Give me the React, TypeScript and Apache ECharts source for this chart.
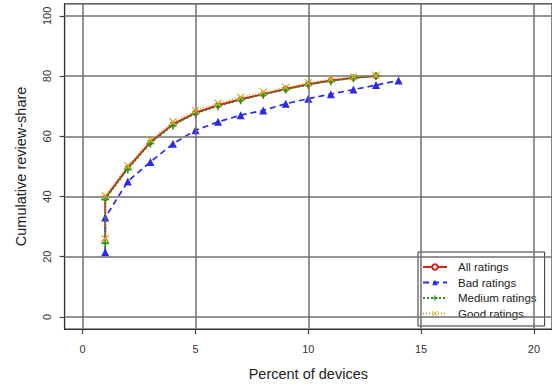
import React, { useEffect, useRef } from "react";
import * as echarts from "echarts";

const xTicks = [0, 5, 10, 15, 20];
const yTicks = [0, 20, 40, 60, 80, 100];

const xMain = [1, 1, 2, 3, 4, 5, 6, 7, 8, 9, 10, 11, 12, 13];
const xBad = [1, 1, 2, 3, 4, 5, 6, 7, 8, 9, 10, 11, 12, 13, 14];

const allRatings = [25, 39.5, 49.5, 58, 64, 67.8, 70.3, 72.3, 74, 75.7, 77.3, 78.5, 79.4, 80];
const mediumRatings = [24.5, 39, 49, 57.6, 63.6, 67.5, 70, 72, 73.8, 75.5, 77.1, 78.3, 79.3, 80];
const goodRatings = [26, 40.3, 50.3, 58.8, 64.8, 68.6, 71, 73, 74.7, 76.3, 77.8, 79, 79.8, 80.3];
const badRatings = [21.5, 33, 45, 51.5, 57.5, 62, 64.8, 67, 68.6, 70.8, 72.5, 74, 75.5, 77, 78.5];

const names = ["All ratings", "Bad ratings", "Medium ratings", "Good ratings"];

const FONT = "'Liberation Sans', Arial, sans-serif";
const PLUS = "path://M4,0H6V4H10V6H6V10H4V6H0V4H4Z";
const CROSS = "path://M1,0L5,4L9,0L10,1L6,5L10,9L9,10L5,6L1,10L0,9L4,5L0,1Z";

const zip = (xs: number[], ys: number[]) => xs.map((x, i) => [x, ys[i]]);

export default function App() {
  const ref = useRef<HTMLDivElement>(null);
  useEffect(() => {
    if (!ref.current) return;
    const chart = echarts.init(ref.current, null, { renderer: "svg" });
    const gridColor = "#707070";
    chart.setOption({
      animation: false,
      backgroundColor: "#fff",
      grid: {
        left: 64.6,
        top: 3.8,
        width: 495.4,
        height: 329.4,
        show: true,
        borderColor: "#333",
        borderWidth: 1.2,
        backgroundColor: "transparent",
      },
      xAxis: {
        type: "value",
        min: -0.8,
        max: 20.8,
        axisLine: { show: true, onZero: false, lineStyle: { color: "#333", width: 1.2 } },
        axisTick: { show: true, customValues: xTicks, length: 5, lineStyle: { color: "#444", width: 1.2 } },
        axisLabel: { customValues: xTicks, fontSize: 11, margin: 14, color: "#333", fontFamily: FONT },
        splitLine: { show: false },
        name: "Percent of devices",
        nameLocation: "middle",
        nameGap: 37,
        nameTextStyle: { fontSize: 14.5, color: "#222", fontFamily: FONT },
      },
      yAxis: {
        type: "value",
        min: -4,
        max: 104,
        axisLine: { show: true, onZero: false, lineStyle: { color: "#333", width: 1.2 } },
        axisTick: { show: true, customValues: yTicks, length: 5, lineStyle: { color: "#444", width: 1.2 } },
        axisLabel: { customValues: yTicks, fontSize: 11, margin: 12, rotate: 90, color: "#333", fontFamily: FONT },
        splitLine: { show: false },
        name: "Cumulative review-share",
        nameLocation: "middle",
        nameGap: 36,
        nameTextStyle: { fontSize: 14.5, color: "#222", fontFamily: FONT },
      },
      legend: {
        data: names,
        orient: "vertical",
        left: 418,
        top: 252,
        padding: [9, 8, 6.5, 4],
        itemGap: 3.5,
        itemWidth: 24,
        itemHeight: 7,
        borderColor: "#333",
        borderWidth: 1,
        textStyle: { fontSize: 11.5, lineHeight: 12, color: "#222", fontFamily: FONT, padding: [0, 0, 0, 6] },
      },
      series: [
        {
          type: "line",
          data: [],
          silent: true,
          z: 1,
          markLine: {
            silent: true,
            symbol: "none",
            label: { show: false },
            lineStyle: { color: gridColor, type: "solid", width: 1.5 },
            data: [...xTicks.map((v) => ({ xAxis: v })), ...yTicks.map((v) => ({ yAxis: v }))],
          },
        },
        {
          name: names[0],
          type: "line",
          z: 3,
          data: zip(xMain, allRatings),
          symbol: "circle",
          symbolSize: 5,
          color: "#d8261c",
          itemStyle: { color: "#fff", borderColor: "#d8261c", borderWidth: 1.2 },
          lineStyle: { color: "#c0301c", width: 2, type: "solid" },
        },
        {
          name: names[1],
          type: "line",
          z: 3,
          data: zip(xBad, badRatings),
          symbol: "triangle",
          symbolSize: 8,
          color: "#2a2ae8",
          itemStyle: { color: "#2a2ae8" },
          lineStyle: { color: "#2a2ae8", width: 1.7, type: [6, 4] },
        },
        {
          name: names[2],
          type: "line",
          z: 4,
          data: zip(xMain, mediumRatings),
          symbol: PLUS,
          symbolSize: 8,
          color: "#1a9a1a",
          itemStyle: { color: "#1a9a1a" },
          lineStyle: { color: "#3a8a1a", width: 1.3, type: [2, 2] },
        },
        {
          name: names[3],
          type: "line",
          z: 5,
          data: zip(xMain, goodRatings),
          symbol: CROSS,
          symbolSize: 8,
          color: "#d4b020",
          itemStyle: { color: "#d4b020" },
          lineStyle: { color: "#c8a020", width: 1.3, type: [1, 2] },
        },
      ],
    });
    return () => chart.dispose();
  }, []);
  return (
    <div
      ref={ref}
      style={{ position: "absolute", left: 0, top: 0, width: 552, height: 386, background: "#fff" }}
    />
  );
}
